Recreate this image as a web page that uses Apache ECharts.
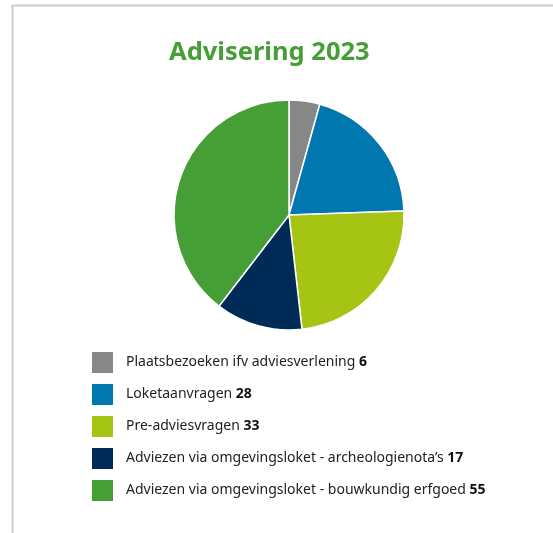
<!DOCTYPE html>
<html><head><meta charset="utf-8">
<script src="https://cdn.jsdelivr.net/npm/echarts@6/dist/echarts.min.js"></script>
<style>html,body{margin:0;padding:0;background:#fff}#c{width:553px;height:533px}</style>
</head><body><div id="c"></div>
<script>
const categories = ["Plaatsbezoeken ifv adviesverlening","Loketaanvragen","Pre-adviesvragen","Adviezen via omgevingsloket - archeologienota’s","Adviezen via omgevingsloket - bouwkundig erfgoed"];
const values = [6,28,33,17,55];
const colors = ["#878787","#0077ae","#a5c414","#002b57","#469e37"];
const chart = echarts.init(document.getElementById('c'));
chart.setOption({
  animation:false,
  title:{text:"Advisering 2023",left:169,top:40,padding:0,textStyle:{color:'#469e37',fontSize:25.5,fontWeight:'bold',fontFamily:'Noto Sans'}},
  graphic:[
    {type:'line',shape:{x1:12.5,y1:5.5,x2:553,y2:5.5},style:{stroke:'#cccccc',lineWidth:2}},
    {type:'line',shape:{x1:12.5,y1:5,x2:12.5,y2:533},style:{stroke:'#cccccc',lineWidth:2}}
  ],
  legend:{orient:'vertical',left:90,top:350,padding:0,itemWidth:23,itemHeight:23,itemGap:7,icon:'rect',
    data:categories,
    formatter:function(name){const i=categories.indexOf(name);return name+' {b|'+values[i]+'}';},
    textStyle:{fontSize:14,lineHeight:23,color:'#222',fontFamily:'Noto Sans',padding:[0,0,0,7],rich:{b:{fontWeight:'bold',fontSize:14,lineHeight:23,color:'#111',fontFamily:'Noto Sans'}}}},
  series:[{type:'pie',center:[289,215],radius:[0,115],startAngle:90,clockwise:true,
    label:{show:false},labelLine:{show:false},
    itemStyle:{borderColor:'#fff',borderWidth:1.5},
    emphasis:{disabled:true},
    data:categories.map((n,i)=>({name:n,value:values[i],itemStyle:{color:colors[i]}}))}]
});
</script></body></html>
